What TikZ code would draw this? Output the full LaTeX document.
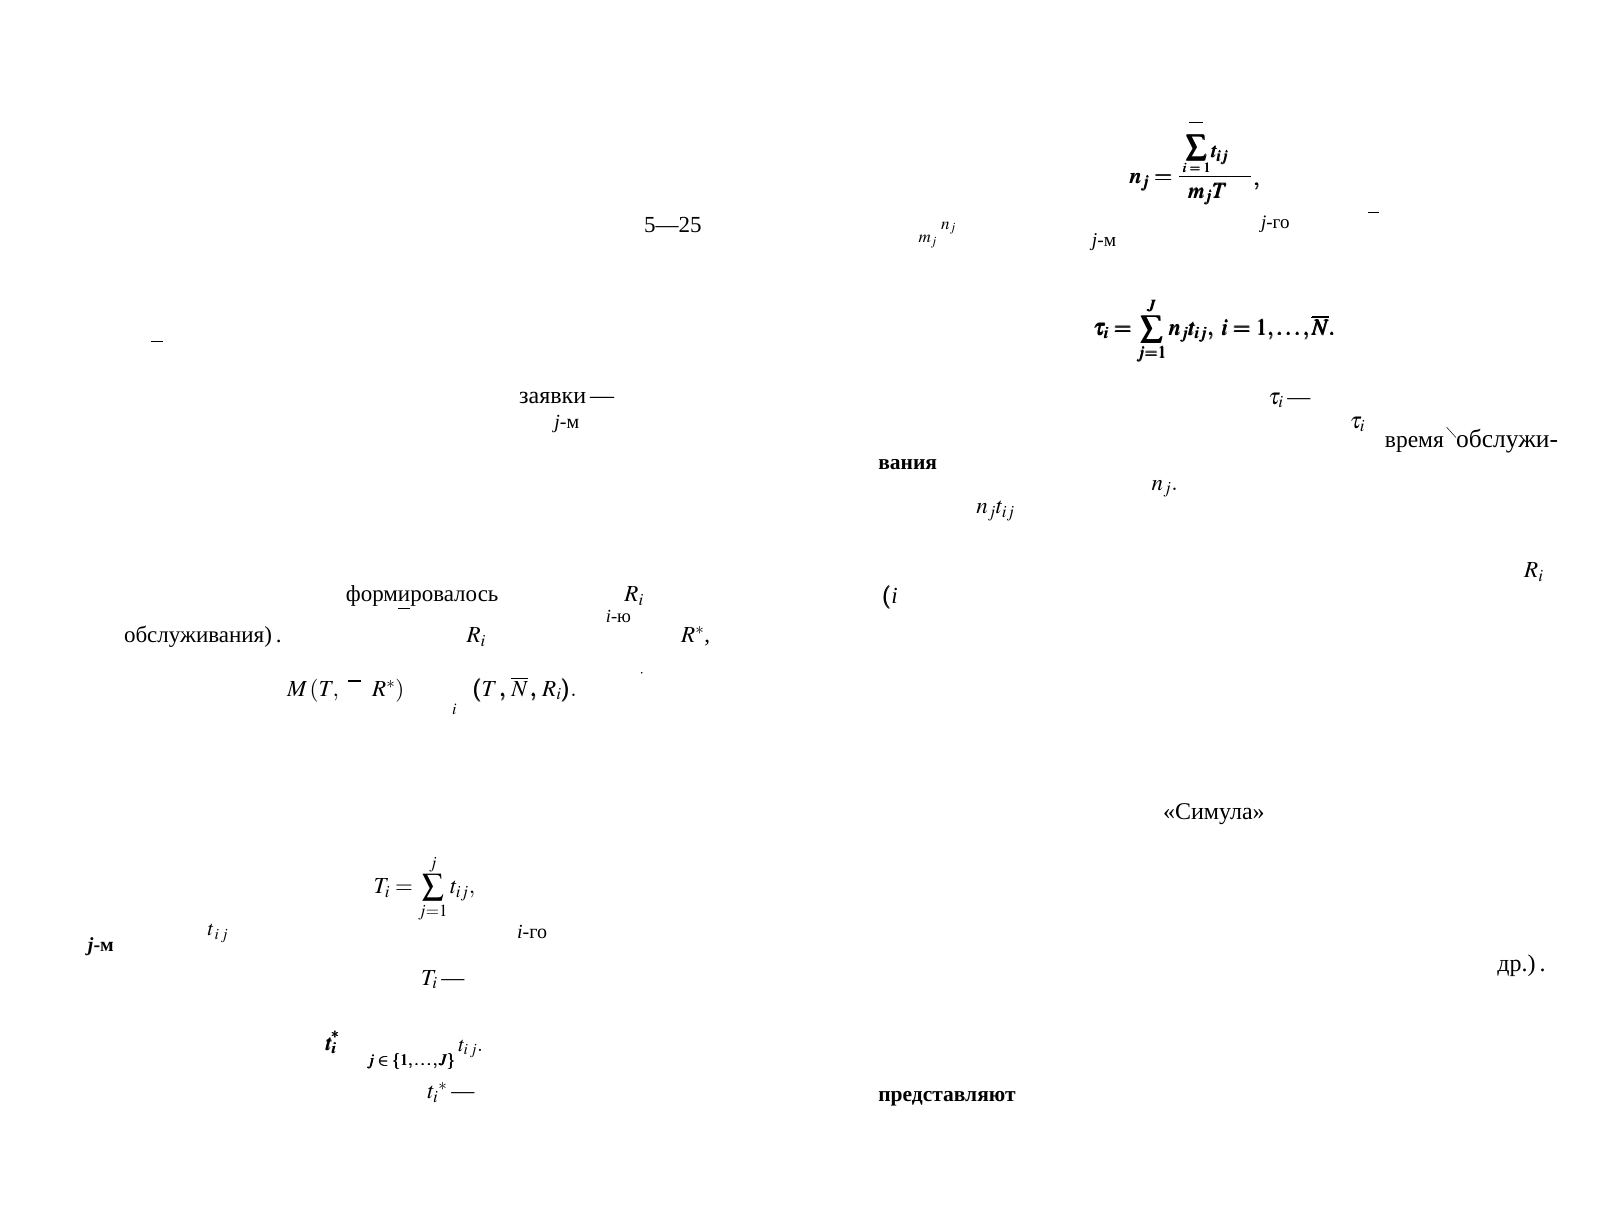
\documentclass[tikz,border=0pt]{standalone}
\usepackage{mathptmx}
\usepackage{amsmath}
\usepackage{graphicx}
\usepackage[no-math]{fontspec}
\setmainfont{Liberation Serif}
\newcommand\fsz[1]{\fontsize{#1}{#1}\selectfont}
\newcommand\bigS{\mathop{\vcenter{\hbox{\scalebox{1.35}{$\sum$}}}}\limits}
\newcommand\ulw[1]{\setbox0\hbox{#1}\rlap{\hspace{0.5pt}\raisebox{-7.5pt}{\rule{\dimexpr\wd0-1pt\relax}{1.2pt}}}#1}
\begin{document}
\begin{tikzpicture}[x=1.0318pt,y=-1.0318pt,
  txt/.style={inner sep=0pt, anchor=base west, font=\fsz{23}},
  sml/.style={inner sep=0pt, anchor=base west, font=\fsz{19.5}},
  tiny/.style={inner sep=0pt, anchor=base west, font=\fsz{17}},
  piece/.style={inner sep=0pt, anchor=center},
  bar/.style={line width=1.4pt}]
\useasboundingbox[fill=white] (0,0) rectangle (1568.1,1184.3);

% ---------- left column ----------
\node[txt] (p525) at (624,225) {5---25};
\coordinate (d1a) at (146,331); \coordinate (d1b) at (158,331);
\draw[bar] (d1a) -- (d1b);
\node[txt, font=\fsz{24}] (zayavki) at (503,391) {заявки\,---};
\node[sml, font=\fsz{20}] (jm1) at (537,415) {\textit{j}-м};

\node[txt] (form) at (335,583) {форм\ulw{и}ровалось};
\node[txt] (Ri1) at (605,583) {$R_i$};
\node[sml, font=\fsz{18.5}] (iu) at (587,603) {\textit{i}-ю};
\node[txt] (obsl) at (120,623) {обслуживания)\,.};
\node[txt] (Ri2) at (452,623) {$R_i$};
\node[txt] (Rstar) at (660,623) {$R^*$,};
\coordinate (dot) at (622,652);
\fill (dot) circle (0.9);
\node[txt] (M1) at (278,675) {$M\,(T,\;\;\;\;\;\; R^*)$};
\coordinate (mba) at (337,660); \coordinate (mbb) at (350,660);
\draw[bar] (mba) -- (mbb);
\node[tiny, font=\fsz{16}] (isub) at (438,692) {$\boldsymbol{i}$};
\node[txt] (TNR) at (458,675) {$\pmb{(}T\,\pmb{,}\;\overline{N}\,\pmb{,}\;R_i\pmb{)}.$};

\node[txt] (Tsum) at (362,866) {$T_i=\bigS_{j=1}^{j} t_{ij},$};
\node[sml, font=\fsz{20}\bfseries] (jm2) at (85,922) {\textit{j}-м};
\node[sml, font=\fsz{21}] (tij1) at (201,907) {$t_{\,i\,j}$};
\node[sml, font=\fsz{20}] (igo) at (501,910) {\textit{i}-го};
\node[txt] (Ti) at (408,955) {$T_i$\,---};
\node[txt, font=\fsz{22}] (tistar) at (316,1018) {$\pmb{t_i}$};
\node[piece, font=\fsz{16}] (tistars) at (325,1003) {$\pmb{*}$};
\node[tiny, font=\fsz{16}] (jset) at (356,1033) {$\pmb{j\in\{1,\ldots,J\}}$};
\node[sml, font=\fsz{21}] (tij2) at (444,1019) {$t_{i\,j}.$};
\node[txt] (tistar2) at (414,1065) {$t_i{}^*$\,---};

% ---------- right column ----------
\node[txt] (nj) at (1095,178) {$\pmb{n_j=}$};
\coordinate (sba) at (1152,119); \coordinate (sbb) at (1166,119);
\draw[bar] (sba) -- (sbb);
\node[piece, font=\fsz{29}] (sig1) at (1160,143) {$\pmb{\sum}$};
\node[txt, font=\fsz{21}] (tij3) at (1174,153) {$\pmb{t_{ij}}$};
\node[piece, font=\fsz{14}] (i1) at (1160,163) {$\pmb{i=1}$};
\coordinate (fla) at (1143,171); \coordinate (flb) at (1212,171);
\draw[line width=1.6pt] (fla) -- (flb);
\node[txt, font=\fsz{22}] (mjT) at (1152,192) {$\pmb{m_jT}$};
\node[txt] (comma1) at (1215,180) {$\pmb{,}$};

\node[tiny] (nj1) at (912,222) {$n_j$};
\node[tiny] (mj1) at (890,235) {$m_j$};
\node[sml, font=\fsz{19}] (jgo) at (1222,221) {\textit{j}-го};
\coordinate (d2a) at (1326,206); \coordinate (d2b) at (1336,206);
\draw[bar] (d2a) -- (d2b);
\node[sml, font=\fsz{19.5}] (jm3) at (1058,239) {\textit{j}-м};
\node[txt] (tausum) at (1060,325) {$\pmb{\tau_i = \bigS_{j=1}^{J} n_jt_{ij},\; i=1,\ldots,\overline{N}.}$};

\node[txt] (tau1) at (1229,392) {$\tau_i$\,---};
\node[txt] (tau2) at (1308,415) {$\tau_i$};
\node[txt, font=\fsz{23.5}] (vremya) at (1342,434) {время};
\node[txt, font=\fsz{25.5}] (obsluzhi) at (1411,434) {обслужи-};
\coordinate (sla) at (1402,414); \coordinate (slb) at (1411,424);
\draw[line width=0.5pt] (sla) -- (slb);
\node[txt, font=\fsz{21.5}\bfseries] (vaniya) at (851,455) {вания};
\node[txt] (nj2) at (1116,475) {$n_j.$};
\node[txt] (njtij) at (946,498) {$n_jt_{ij}$};
\node[txt] (Ri3) at (1477,560) {$R_i$};
\node[txt] (ipar) at (855,585) {$\pmb{(}\textit{i}$};

\node[txt, font=\fsz{24}] (simula) at (1127,794) {«Симула»};
\node[txt, font=\fsz{24}] (drp) at (1451,942) {др.)\,.};
\node[txt, font=\fsz{21.5}\bfseries] (predst) at (851,1068) {представляют};
\end{tikzpicture}
\end{document}
